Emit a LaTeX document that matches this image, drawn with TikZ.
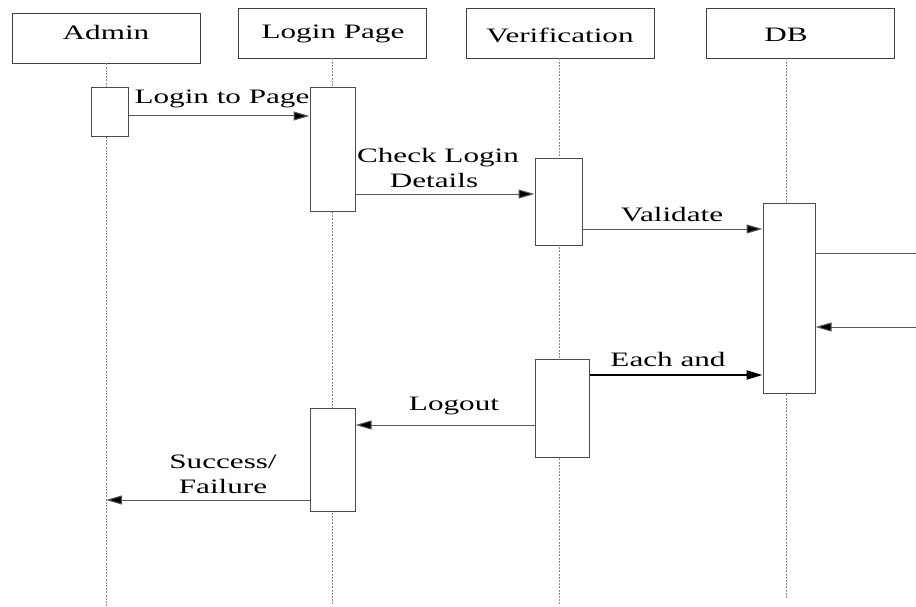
\documentclass[tikz,border=0pt]{standalone}
\usepackage{fontspec}
\usetikzlibrary{arrows.meta}
\newfontfamily\lblfont[FakeStretch=1.52]{Liberation Serif}
\begin{document}
\begin{tikzpicture}[x=1pt,y=-1pt,
  hdr/.style={draw=black!75, line width=0.9pt, fill=white, minimum width=188pt, minimum height=50pt, inner sep=0pt},
  act/.style={draw=black!70, line width=1pt, fill=white, inner sep=0pt},
  life/.style={draw=black!45, line width=0.8pt, dash pattern=on 2pt off 1.2pt},
  msg/.style={draw=black!65, line width=1pt, -{Triangle[length=16pt,width=9pt,fill=black]}},
  thickmsg/.style={draw=black, line width=2.2pt, -{Triangle[length=16pt,width=9pt,fill=black]}},
  plain/.style={draw=black!65, line width=1pt},
  lbl/.style={font=\lblfont\fontsize{20.5}{25}\selectfont, inner sep=0pt, anchor=base}]
\useasboundingbox (0,0) rectangle (916,607);
% headers
\node[hdr] (hA) at (106,38) {};
\node[hdr] (hL) at (332.5,33) {};
\node[hdr] (hV) at (560,33) {};
\node[hdr] (hD) at (800,33) {};
\node[lbl] (tA) at (106,40) {Admin};
\node[lbl] (tL) at (333,39) {Login Page};
\node[lbl] (tV) at (560,43) {Verification};
\node[lbl] (tD) at (786,42) {DB};
% lifeline ends
\coordinate (eA) at (106,606);
\coordinate (eL) at (332,605);
\coordinate (eV) at (559,605);
\coordinate (eD) at (786,599);
\draw[life] (hA.south -| eA) -- (eA);
\draw[life] (hL.south -| eL) -- (eL);
\draw[life] (hV.south -| eV) -- (eV);
\draw[life] (hD.south -| eD) -- (eD);
% activations
\node[act, minimum width=37pt, minimum height=49pt] (aA) at (109.5,112.5) {};
\node[act, minimum width=45pt, minimum height=123pt] (aL1) at (332.5,149.5) {};
\node[act, minimum width=47pt, minimum height=86pt] (aV1) at (558.5,202) {};
\node[act, minimum width=52pt, minimum height=190pt] (aD) at (789,298) {};
\node[act, minimum width=54pt, minimum height=98pt] (aV2) at (562,408) {};
\node[act, minimum width=45pt, minimum height=103pt] (aL2) at (332.5,459.5) {};
% message levels
\coordinate (y1) at (0,116);
\coordinate (y2) at (0,194);
\coordinate (y3) at (0,229);
\coordinate (y4) at (0,253);
\coordinate (y5) at (0,327);
\coordinate (y6) at (0,375);
\coordinate (y7) at (0,425);
\coordinate (y8) at (0,500);
\coordinate (edge) at (916,0);
% messages
\draw[msg] (aA.east |- y1) -- (aL1.west |- y1);
\draw[msg] (aL1.east |- y2) -- (aV1.west |- y2);
\draw[msg] (aV1.east |- y3) -- (aD.west |- y3);
\draw[plain] (aD.east |- y4) -- (edge |- y4);
\draw[msg] (edge |- y5) -- (aD.east |- y5);
\draw[thickmsg] (aV2.east |- y6) -- (aD.west |- y6);
\draw[msg] (aV2.west |- y7) -- (aL2.east |- y7);
\draw[msg] (aL2.west |- y8) -- (eA |- y8);
% labels
\node[lbl] (m1) at (222,104) {Login to Page};
\node[lbl] (m2a) at (438,163) {Check Login};
\node[lbl] (m2b) at (434,187) {Details};
\node[lbl] (m3) at (672,221) {Validate};
\node[lbl] (m6) at (668,366) {Each and};
\node[lbl] (m7) at (454,410) {Logout};
\node[lbl] (m8a) at (223,468) {Success/};
\node[lbl] (m8b) at (223,493) {Failure};
\end{tikzpicture}
\end{document}
